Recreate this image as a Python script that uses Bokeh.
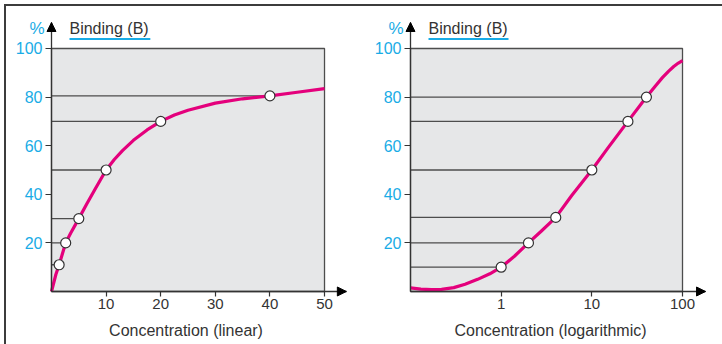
from bokeh.plotting import figure
from bokeh.layouts import row
from bokeh.models import Label, Arrow, NormalHead, FixedTicker, Range1d
from bokeh.embed import file_html
from bokeh.resources import INLINE

# ---------------- data ----------------
lin_curve_x = [0, 0.4, 0.8, 1.4, 2.0, 2.6, 3.5, 5, 6.5, 8, 10, 11.5, 13, 15, 17.5, 20, 22.5, 25, 30, 35, 40, 45, 50]
lin_curve_y = [0, 3.5, 7, 11, 15.5, 20, 24, 30, 36.2, 42.2, 50, 54.3, 58, 62.2, 66.5, 70, 72.6, 74.6, 77.5, 79.3, 80.5, 82, 83.5]
lin_pts_x = [1.4, 2.6, 5, 10, 20, 40]
lin_pts_y = [11, 20, 30, 50, 70, 80.5]

log_curve_x = [0.1, 0.13, 0.17, 0.22, 0.3, 0.4, 0.55, 0.75, 1, 1.4, 2, 2.8, 4, 6, 10, 15, 25, 40, 50, 60, 70, 80, 90, 100]
log_curve_y = [1.5, 1.0, 0.8, 0.9, 1.6, 3.0, 5.0, 7.3, 10, 14.5, 20, 25, 30.5, 39.5, 50, 59, 70, 80, 84.5, 88, 90.6, 92.6, 94, 95]
log_pts_x = [1, 2, 4, 10, 25, 40]
log_pts_y = [10, 20, 30.5, 50, 70, 80]

y_ticks = [20, 40, 60, 80, 100]
lin_x_ticks = [10, 20, 30, 40, 50]
log_x_ticks = [1, 10, 100]
log_x_labels = ["1", "10", "100"]

y_title = "Binding (B)"
y_unit = "%"
lin_x_title = "Concentration (linear)"
log_x_title = "Concentration (logarithmic)"

# ---------------- style ----------------
FONT = "Liberation Sans"
CYAN = "#19ace6"
MAGENTA = "#e4007c"
DARK = "#333333"
GUIDE = "#4d4d4d"
PANEL = "#e6e7e8"
Y_TIP = 110.7


def base_figure(width, x_range, y_range, x0, x_tip, x_axis_type="linear"):
    p = figure(width=width, height=338, x_range=x_range, y_range=y_range,
               x_axis_type=x_axis_type, output_backend="svg", toolbar_location=None,
               min_border=0)
    p.outline_line_color = None
    p.grid.visible = False
    p.background_fill_color = "white"
    p.border_fill_color = "white"
    for ax in (p.xaxis[0], p.yaxis[0]):
        ax.axis_line_color = DARK
        ax.axis_line_width = 1.3
        ax.major_tick_line_color = DARK
        ax.major_tick_line_width = 1.2
        ax.major_tick_in = 0
        ax.minor_tick_line_color = None
        ax.major_label_text_font = FONT
    p.yaxis.fixed_location = x0
    p.xaxis.fixed_location = 0
    p.yaxis.bounds = (0, Y_TIP)
    p.xaxis.bounds = (x0, x_tip)
    p.yaxis.ticker = FixedTicker(ticks=y_ticks)
    p.yaxis.major_tick_out = 6
    p.yaxis.major_label_standoff = 3
    p.yaxis.major_label_text_color = CYAN
    p.yaxis.major_label_text_font_size = "16px"
    p.xaxis.major_tick_out = 5
    p.xaxis.major_label_standoff = 3
    p.xaxis.major_label_text_color = DARK
    p.xaxis.major_label_text_font_size = "15px"
    return p


def decorate(p, x0, x_end, x_right, pts_x, pts_y, cx, cy,
             und_x0, und_x1, xtitle, xtitle_x, xtitle_off):
    # grey panel
    p.quad(left=[x0], right=[x_right], bottom=[0], top=[100], fill_color=PANEL,
           line_color=GUIDE, line_width=1.3)
    # guide lines
    p.segment(x0=[x0] * len(pts_x), y0=pts_y, x1=pts_x, y1=pts_y,
              line_color=GUIDE, line_width=1.3)
    # curve
    p.line(cx, cy, line_color=MAGENTA, line_width=3.2, line_join="round")
    # points
    p.scatter(pts_x, pts_y, size=10, fill_color="white", line_color=DARK, line_width=1.2)
    # arrows on axes
    p.add_layout(Arrow(x_start=x0, y_start=100, x_end=x0, y_end=Y_TIP,
                       line_alpha=0,
                       end=NormalHead(size=9, fill_color="black", line_color="black", line_width=1)))
    p.add_layout(Arrow(x_start=x_right, y_start=0, x_end=x_end, y_end=0,
                       line_alpha=0,
                       end=NormalHead(size=9, fill_color="black", line_color="black", line_width=1)))
    # labels
    p.add_layout(Label(x=x0, y=108.2, x_offset=-7, text=y_unit, text_align="right",
                       text_baseline="alphabetic", text_color=CYAN, text_font=FONT,
                       text_font_size="17px"))
    p.add_layout(Label(x=x0, y=108.2, x_offset=18, text=y_title, text_align="left",
                       text_baseline="alphabetic", text_color=DARK, text_font=FONT,
                       text_font_size="16px"))
    p.segment(x0=[und_x0], y0=[103.9], x1=[und_x1], y1=[103.9], line_color=CYAN, line_width=2)
    p.add_layout(Label(x=xtitle_x, y=-16.1, x_offset=xtitle_off, text=xtitle,
                       text_align="center", text_baseline="alphabetic", text_color=DARK,
                       text_font=FONT, text_font_size="16px"))


# left panel (linear): page x 6..360, data 0 at page x 51, 5.46 px/unit
p1 = base_figure(354, Range1d(-8.24, 56.59), Range1d(-21.81, 117.28), 0, 54.0)
p1.xaxis.ticker = FixedTicker(ticks=lin_x_ticks)
decorate(p1, 0, 54.0, 50, lin_pts_x, lin_pts_y, lin_curve_x, lin_curve_y,
         3.3, 18.1, lin_x_title, 25, -2)

# right panel (log): page x 360..722, 0.1 at page x 410, 90.67 px/decade
p2 = base_figure(362, Range1d(0.02809, 276.1), Range1d(-21.81, 117.28), 0.1, 179.5,
                 x_axis_type="log")
p2.xaxis.ticker = FixedTicker(ticks=log_x_ticks)
p2.xaxis.major_label_overrides = {t: s for t, s in zip(log_x_ticks, log_x_labels)}
decorate(p2, 0.1, 179.5, 100, log_pts_x, log_pts_y, log_curve_x, log_curve_y,
         0.158, 1.205, log_x_title, 3.16, 4)

layout = row(p1, p2, styles={"margin-left": "4px", "margin-top": "4px",
                             "border-top": "2px solid #3c3c3c",
                             "border-left": "2px solid #3c3c3c"})

open("out.html", "w").write(file_html(layout, INLINE))
